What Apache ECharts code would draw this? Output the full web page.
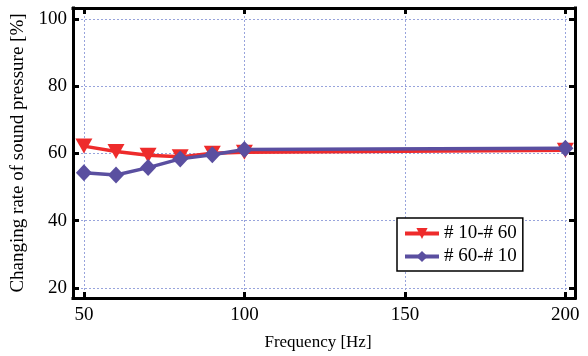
<!DOCTYPE html>
<html>
<head>
<meta charset="utf-8">
<script src="https://cdn.jsdelivr.net/npm/echarts@6/dist/echarts.min.js"></script>
<style>
  html, body { margin: 0; padding: 0; background: #fff; }
  #chart { width: 588px; height: 356px; }
</style>
</head>
<body>
<div id="chart"></div>
<script>
// data
const frequency = [50, 60, 70, 80, 90, 100, 200];
const rate10to60 = [62.2, 60.6, 59.5, 59.0, 60.1, 60.4, 61.0];
const rate60to10 = [54.3, 53.6, 55.8, 58.4, 59.6, 61.2, 61.6];
const xTicks = [50, 100, 150, 200];
const yTicks = [20, 40, 60, 80, 100];

const font = 'Liberation Serif';
const red = '#ee2b2b';
const blue = '#5a4fa0';

const frameLine = { show: true, onZero: false, lineStyle: { color: '#000', width: 3, cap: 'square' } };
const tickStyle = { show: true, inside: true, length: 6, lineStyle: { color: '#000', width: 3 } };
const gridDots = { show: true, lineStyle: { color: '#98a4dc', width: 1, type: [2, 2] } };

const chart = echarts.init(document.getElementById('chart'));
chart.setOption({
  animation: false,
  grid: { left: 73, right: 13, top: 8, bottom: 52 },
  legend: {
    left: 397, top: 218,
    orient: 'vertical',
    backgroundColor: '#fff',
    borderColor: '#000', borderWidth: 1.5, borderRadius: 0,
    padding: [6, 6, 5, 6],
    itemGap: 4,
    itemWidth: 34, itemHeight: 14,
    lineStyle: { width: 4 },
    textStyle: { fontFamily: font, fontSize: 19, color: '#000' },
    data: ['# 10-# 60', '# 60-# 10'],
  },
  xAxis: [
    {
      type: 'value', min: 46.6, max: 203, position: 'bottom',
      name: 'Frequency [Hz]', nameLocation: 'middle', nameGap: 36,
      nameTextStyle: { fontFamily: font, fontSize: 17, color: '#000', padding: [0, 12, 0, 0] },
      axisLine: frameLine,
      axisTick: Object.assign({ customValues: xTicks }, tickStyle),
      axisLabel: { customValues: xTicks, margin: 8, fontFamily: font, fontSize: 19, color: '#000' },
      splitLine: gridDots,
    },
    {
      type: 'value', min: 46.6, max: 203, position: 'top',
      axisLine: frameLine,
      axisTick: Object.assign({ customValues: xTicks }, tickStyle),
      axisLabel: { show: false },
      splitLine: { show: false },
    },
  ],
  yAxis: [
    {
      type: 'value', min: 17, max: 103.3, position: 'left',
      name: 'Changing rate of sound pressure [%]', nameLocation: 'middle', nameGap: 38,
      nameTextStyle: { fontFamily: font, fontSize: 19, color: '#000' },
      axisLine: frameLine,
      axisTick: Object.assign({ customValues: yTicks }, tickStyle),
      axisLabel: { customValues: yTicks, margin: 6, fontFamily: font, fontSize: 19, color: '#000' },
      splitLine: gridDots,
    },
    {
      type: 'value', min: 17, max: 103.3, position: 'right',
      axisLine: frameLine,
      axisTick: Object.assign({ customValues: yTicks }, tickStyle),
      axisLabel: { show: false },
      splitLine: { show: false },
    },
  ],
  series: [
    {
      name: '# 10-# 60',
      type: 'line',
      data: frequency.map((f, i) => [f, rate10to60[i]]),
      symbol: 'path://M0,0 L10,0 L5,9 Z',
      symbolSize: [17, 15],
      itemStyle: { color: red },
      lineStyle: { color: red, width: 3.5 },
    },
    {
      name: '# 60-# 10',
      type: 'line',
      data: frequency.map((f, i) => [f, rate60to10[i]]),
      symbol: 'diamond',
      symbolSize: [16, 17],
      itemStyle: { color: blue },
      lineStyle: { color: blue, width: 3.5 },
    },
  ],
});
</script>
</body>
</html>
